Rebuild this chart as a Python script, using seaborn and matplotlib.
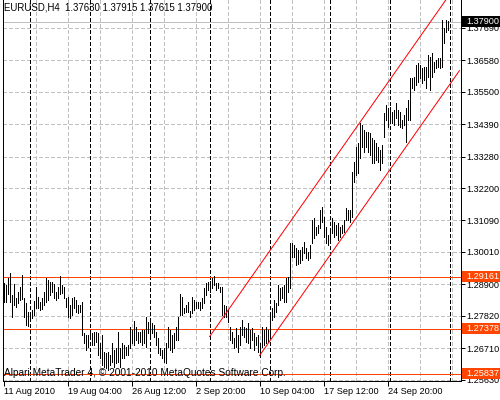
import numpy as np
import pandas as pd
import seaborn as sns
import matplotlib
matplotlib.use("Agg")
import matplotlib.pyplot as plt
from matplotlib.patches import Rectangle
from matplotlib.transforms import blended_transform_factory

# EURUSD H4 bars (only high/low are visible at this zoom)
bar_high = [
    1.2894, 1.2887, 1.2911, 1.2929, 1.2853, 1.2891, 1.2843, 1.2863, 1.2881, 1.2922,
    1.2843, 1.2826, 1.2795, 1.2795, 1.2802, 1.2833, 1.2881, 1.2846, 1.2829, 1.2843,
    1.2863, 1.2911, 1.2905, 1.2898, 1.2898, 1.2891, 1.2863, 1.2881, 1.2918, 1.2887,
    1.2881, 1.2843, 1.2846, 1.2819, 1.2843, 1.2846, 1.2836, 1.2819, 1.2819, 1.2829,
    1.2723, 1.2716, 1.2716, 1.2730, 1.2723, 1.2726, 1.2726, 1.2723, 1.2688, 1.2716,
    1.2658, 1.2654, 1.2658, 1.2647, 1.2688, 1.2664, 1.2671, 1.2726, 1.2671, 1.2688,
    1.2682, 1.2675, 1.2682, 1.2743, 1.2733, 1.2764, 1.2743, 1.2726, 1.2726, 1.2733,
    1.2733, 1.2778, 1.2761, 1.2767, 1.2757, 1.2750, 1.2726, 1.2706, 1.2671, 1.2664,
    1.2671, 1.2688, 1.2743, 1.2733, 1.2716, 1.2723, 1.2743, 1.2778, 1.2857, 1.2846,
    1.2809, 1.2819, 1.2829, 1.2798, 1.2846, 1.2836, 1.2829, 1.2829, 1.2829, 1.2843,
    1.2877, 1.2894, 1.2898, 1.2901, 1.2911, 1.2918, 1.2894, 1.2894, 1.2881, 1.2881,
    1.2819, 1.2815, 1.2802, 1.2743, 1.2726, 1.2706, 1.2740, 1.2716, 1.2743, 1.2767,
    1.2743, 1.2740, 1.2757, 1.2733, 1.2740, 1.2723, 1.2709, 1.2716, 1.2688, 1.2743,
    1.2733, 1.2743, 1.2733, 1.2785, 1.2809, 1.2836, 1.2826, 1.2887, 1.2877, 1.2881,
    1.2887, 1.2911, 1.2915, 1.3032, 1.3032, 1.3025, 1.3014, 1.3008, 1.3008, 1.3018,
    1.3035, 1.3014, 1.3001, 1.3025, 1.3110, 1.3117, 1.3086, 1.3093, 1.3145, 1.3155,
    1.3121, 1.3086, 1.3059, 1.3083, 1.3117, 1.3104, 1.3093, 1.3100, 1.3086, 1.3093,
    1.3110, 1.3152, 1.3145, 1.3145, 1.3275, 1.3309, 1.3361, 1.3375, 1.3443, 1.3436,
    1.3419, 1.3412, 1.3412, 1.3409, 1.3392, 1.3385, 1.3375, 1.3361, 1.3350, 1.3368,
    1.3477, 1.3505, 1.3495, 1.3498, 1.3481, 1.3488, 1.3512, 1.3488, 1.3481, 1.3453,
    1.3471, 1.3495, 1.3522, 1.3597, 1.3597, 1.3601, 1.3642, 1.3649, 1.3642, 1.3632,
    1.3635, 1.3635, 1.3676, 1.3670, 1.3683, 1.3652, 1.3659, 1.3666, 1.3666, 1.3796,
    1.3769, 1.3796, 1.37915,
]
bar_low = [
    1.2829, 1.2829, 1.2857, 1.2829, 1.2778, 1.2819, 1.2812, 1.2826, 1.2836, 1.2839,
    1.2778, 1.2750, 1.2747, 1.2764, 1.2774, 1.2785, 1.2809, 1.2809, 1.2802, 1.2805,
    1.2819, 1.2829, 1.2836, 1.2853, 1.2863, 1.2843, 1.2836, 1.2843, 1.2857, 1.2860,
    1.2843, 1.2812, 1.2778, 1.2774, 1.2785, 1.2809, 1.2795, 1.2791, 1.2795, 1.2716,
    1.2688, 1.2664, 1.2675, 1.2706, 1.2682, 1.2682, 1.2692, 1.2647, 1.2637, 1.2613,
    1.2606, 1.2603, 1.2596, 1.2613, 1.2623, 1.2606, 1.2620, 1.2623, 1.2606, 1.2637,
    1.2637, 1.2647, 1.2647, 1.2671, 1.2688, 1.2682, 1.2699, 1.2688, 1.2692, 1.2682,
    1.2688, 1.2675, 1.2723, 1.2709, 1.2723, 1.2709, 1.2682, 1.2654, 1.2647, 1.2637,
    1.2623, 1.2620, 1.2675, 1.2664, 1.2658, 1.2671, 1.2699, 1.2699, 1.2785, 1.2785,
    1.2791, 1.2795, 1.2795, 1.2778, 1.2791, 1.2802, 1.2809, 1.2809, 1.2802, 1.2809,
    1.2826, 1.2853, 1.2870, 1.2863, 1.2877, 1.2887, 1.2870, 1.2877, 1.2863, 1.2785,
    1.2778, 1.2778, 1.2761, 1.2699, 1.2688, 1.2671, 1.2675, 1.2658, 1.2682, 1.2716,
    1.2709, 1.2692, 1.2688, 1.2671, 1.2699, 1.2664, 1.2682, 1.2658, 1.2641, 1.2675,
    1.2682, 1.2688, 1.2692, 1.2709, 1.2767, 1.2778, 1.2795, 1.2819, 1.2836, 1.2843,
    1.2829, 1.2829, 1.2863, 1.2877, 1.2984, 1.2984, 1.2956, 1.2960, 1.2963, 1.2973,
    1.2997, 1.2980, 1.2973, 1.2980, 1.3032, 1.3049, 1.3059, 1.3066, 1.3083, 1.3104,
    1.3052, 1.3032, 1.3025, 1.3035, 1.3066, 1.3052, 1.3059, 1.3042, 1.3052, 1.3066,
    1.3069, 1.3110, 1.3110, 1.3104, 1.3121, 1.3241, 1.3265, 1.3272, 1.3323, 1.3361,
    1.3344, 1.3361, 1.3344, 1.3333, 1.3306, 1.3306, 1.3316, 1.3309, 1.3282, 1.3306,
    1.3395, 1.3453, 1.3429, 1.3453, 1.3443, 1.3436, 1.3460, 1.3436, 1.3429, 1.3426,
    1.3436, 1.3378, 1.3453, 1.3453, 1.3563, 1.3556, 1.3573, 1.3584, 1.3597, 1.3580,
    1.3591, 1.3563, 1.3601, 1.3556, 1.3601, 1.3618, 1.3632, 1.3635, 1.3632, 1.3635,
    1.3718, 1.3755, 1.37615,
]

# last bar, shown in the chart header
last_open, last_high, last_low, last_close = 1.37630, 1.37915, 1.37615, 1.37900

# horizontal levels drawn on the chart
levels = [1.29161, 1.27378, 1.25837]

# trend channel (bar index, price)
channel_upper_x = [103, 228]
channel_upper_y = [1.2710, 1.3932]
channel_lower_x = [128, 228]
channel_lower_y = [1.2645, 1.3623]

# axis labels
price_ticks = [1.25630, 1.26710, 1.27820, 1.28900, 1.30010, 1.31090,
               1.32200, 1.33280, 1.34390, 1.35500, 1.36580, 1.37690]
date_ticks = [0, 32, 64, 96, 128, 160, 192]
date_labels = ["11 Aug 2010", "19 Aug 04:00", "26 Aug 12:00", "2 Sep 20:00",
               "10 Sep 04:00", "17 Sep 12:00", "24 Sep 20:00"]
grid_bars = list(range(16, 229, 16))
week_separators = [13, 43, 73, 103, 133, 163, 193, 223]

sns.set_style("white")
plt.rcParams["font.family"] = ["Liberation Sans", "DejaVu Sans"]
plt.rcParams["lines.scale_dashes"] = False

FS = 6.6
PX = 0.72  # one pixel in points at 100 dpi
ORANGE = "#ff4500"
GRID = "#c0c0c0"
dash = (0, (2.5, 2.0))

fig = plt.figure(figsize=(5, 4), dpi=100)
ax = fig.add_axes([2.5 / 500, 19 / 400, 458 / 500, 381 / 400])

# grid and week separators
for p in price_ticks:
    ax.axhline(p, color=GRID, lw=PX, ls=dash, antialiased=False, zorder=1)
for b in grid_bars:
    ax.axvline(b, color=GRID, lw=PX, ls=dash, antialiased=False, zorder=1)
for b in week_separators:
    ax.axvline(b, color="black", lw=PX, ls=dash, antialiased=False, zorder=1.5)

# price levels and current price line
for lv in levels:
    ax.axhline(lv, color=ORANGE, lw=PX, antialiased=False, zorder=2)
ax.axhline(last_close, color=GRID, lw=PX, antialiased=False, zorder=2)

# bars
bars = pd.DataFrame({"bar": np.arange(len(bar_high)), "high": bar_high, "low": bar_low})
ax.vlines(bars["bar"], bars["low"], bars["high"], colors="black", lw=PX,
          antialiased=False, zorder=3)

# channel
sns.lineplot(x=channel_upper_x, y=channel_upper_y, color="red", lw=PX, ax=ax, zorder=4)
sns.lineplot(x=channel_lower_x, y=channel_lower_y, color="red", lw=PX, ax=ax, zorder=4)

ax.set_xlim(-0.5, 228.5)
ax.set_ylim(1.3865 - 0.000343 * 381, 1.3865)

# axes frame
ax.spines["top"].set_visible(False)
for s in ["left", "right", "bottom"]:
    ax.spines[s].set_color("black")
    ax.spines[s].set_linewidth(PX)

ax.set_yticks(price_ticks)
ax.set_yticklabels([f"{p:.5f}" for p in price_ticks])
ax.set_xticks(date_ticks)
ax.set_xticklabels(date_labels)
ax.tick_params(axis="y", left=False, right=True, labelleft=False, labelright=True,
               direction="out", length=3, width=PX, pad=1.5, labelsize=FS,
               colors="black")
ax.tick_params(axis="x", bottom=True, direction="out", length=3.5, width=PX,
               pad=1, labelsize=FS, colors="black")
plt.setp(ax.get_xticklabels(), ha="left")
ax.set_xlabel("")
ax.set_ylabel("")

# price tags on the right axis
blend = blended_transform_factory(ax.transAxes, ax.transData)
tag_h = 11 * 0.000343
tags = [(lv, ORANGE) for lv in levels] + [(last_close, "black")]
for val, col in tags:
    ax.add_patch(Rectangle((1.003, val - tag_h / 2), 0.1, tag_h, transform=blend,
                           facecolor=col, edgecolor="none", clip_on=False, zorder=10))
    ax.text(1.013, val, f"{val:.5f}", transform=blend, ha="left", va="center",
            color="white", fontsize=FS, clip_on=False, zorder=11)

# header and watermark
fig.text(4 / 500, 1 - 7 / 400,
         f"EURUSD,H4  {last_open:.5f} {last_high:.5f} {last_low:.5f} {last_close:.5f}",
         ha="left", va="center", fontsize=6.9, color="black")
fig.text(4 / 500, 1 - 373 / 400,
         "Alpari MetaTrader 4, \u00a9 2001-2010 MetaQuotes Software Corp.",
         ha="left", va="center", fontsize=7.3, color="black", zorder=5)

fig.savefig("out.png", dpi=100)
